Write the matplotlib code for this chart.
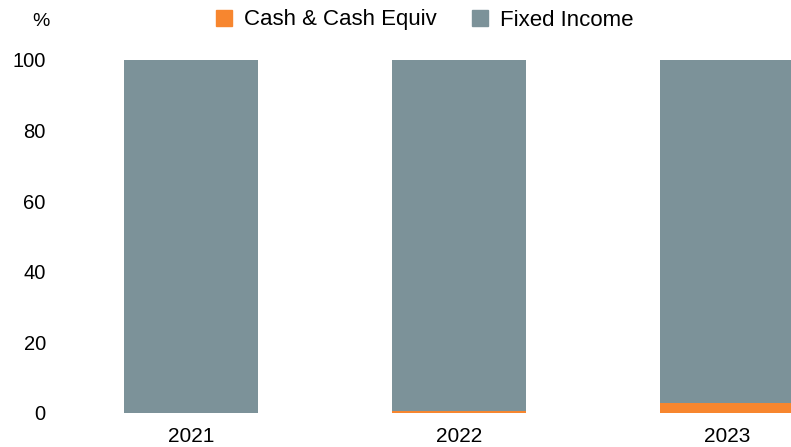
import matplotlib
matplotlib.use('Agg')
import matplotlib.pyplot as plt
from matplotlib.patches import Patch

# Datos
anios = ['2021', '2022', '2023']
efectivo = [0.0, 0.7, 2.8]
renta_fija = [100.0, 99.3, 97.2]

color_efectivo = '#f7862f'
color_renta = '#7c9299'

plt.rcParams['font.family'] = ['Liberation Sans', 'DejaVu Sans']

fig = plt.figure(figsize=(7.91, 4.47), dpi=100)
# ejes: 0 en y=413 px, 100 en y=60 px
ax = fig.add_axes([100 / 791, 34 / 447, 1 - 100 / 791, 353 / 447])

x = range(len(anios))
ax.bar(x, efectivo, width=0.5, color=color_efectivo)
ax.bar(x, renta_fija, width=0.5, bottom=efectivo, color=color_renta)

ax.set_xlim(-0.341, 2.237)
ax.set_ylim(0, 100)
ax.set_yticks([0, 20, 40, 60, 80, 100])
ax.set_xticks(list(x))
ax.set_xticklabels(anios)
ax.tick_params(axis='y', length=0, pad=39, labelsize=14.5)
ax.tick_params(axis='x', length=0, pad=10, labelsize=15)
for s in ax.spines.values():
    s.set_visible(False)

fig.text(41 / 791, 1 - 22 / 447, '%', fontsize=14, ha='center', va='center')

manejadores = [Patch(color=color_efectivo, label='Cash & Cash Equiv'),
               Patch(color=color_renta, label='Fixed Income')]
fig.legend(handles=manejadores, loc='center', bbox_to_anchor=(425 / 791, 1 - 20 / 447),
           ncol=2, frameon=False, fontsize=16, handlelength=0.7, handleheight=0.7,
           handletextpad=0.55, columnspacing=1.6, borderpad=0, borderaxespad=0)

fig.savefig('out.png', dpi=100)
